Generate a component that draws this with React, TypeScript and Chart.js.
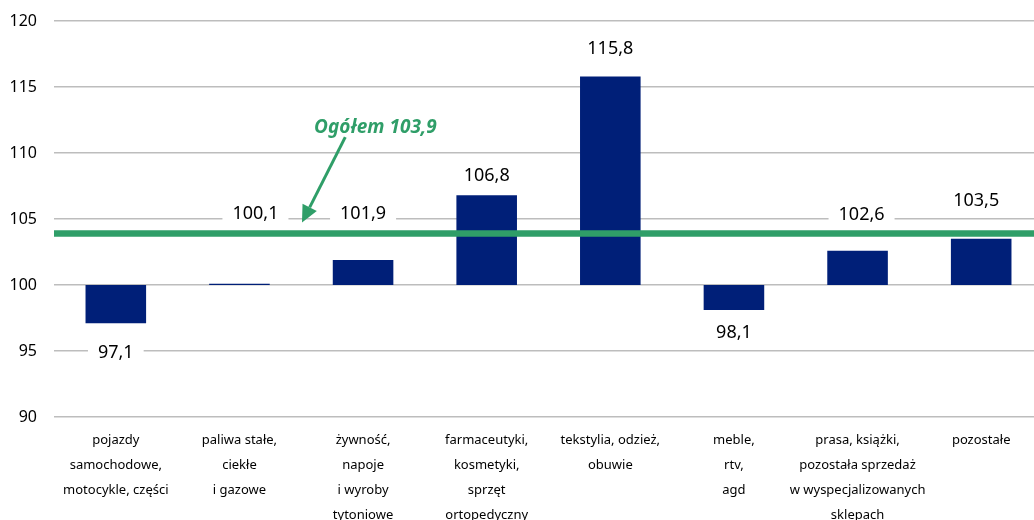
import { useEffect, useRef } from "react";
import { Chart, registerables } from "chart.js";
Chart.register(...registerables);

const categories: string[][] = [
  ["pojazdy", "samochodowe,", "motocykle, części"],
  ["paliwa stałe,", "ciekłe", "i gazowe"],
  ["żywność,", "napoje", "i wyroby", "tytoniowe"],
  ["farmaceutyki,", "kosmetyki,", "sprzęt", "ortopedyczny"],
  ["tekstylia, odzież,", "obuwie"],
  ["meble,", "rtv,", "agd"],
  ["prasa, książki,", "pozostała sprzedaż", "w wyspecjalizowanych", "sklepach"],
  ["pozostałe"],
];
const values: number[] = [97.1, 100.1, 101.9, 106.8, 115.8, 98.1, 102.6, 103.5];
const baseValue = 100;
const overallValue = 103.9;
const overallLabel = "Ogółem 103,9";
const yMin = 90;
const yMax = 120;
const yStep = 5;

const NAVY = "#001F78";
const GREEN = "#2F9E68";
const FONT = "'Noto Sans', sans-serif";

const fmt = (v: number) => v.toFixed(1).replace(".", ",");

const overlayPlugin = {
  id: "overlay",
  afterDatasetsDraw(chart: any, _args: any, opts: any) {
    const { ctx, chartArea, scales } = chart;
    const xs = scales.x;
    const ys = scales.y;
    ctx.save();
    // overall line
    const ly = ys.getPixelForValue(overallValue);
    ctx.strokeStyle = GREEN;
    ctx.lineWidth = 6.5;
    ctx.beginPath();
    ctx.moveTo(chartArea.left, ly);
    ctx.lineTo(chartArea.right, ly);
    ctx.stroke();

    // value labels
    ctx.font = `18px ${FONT}`;
    ctx.textAlign = "center";
    ctx.textBaseline = "middle";
    values.forEach((v, i) => {
      const cx = xs.getPixelForValue(i) + opts.labelDx[i];
      const cy = ys.getPixelForValue(opts.labelAt[i]);
      const txt = fmt(v);
      const w = ctx.measureText(txt).width + 20;
      ctx.fillStyle = "#ffffff";
      ctx.fillRect(cx - w / 2, cy - 12, w, 24);
      ctx.fillStyle = "#000000";
      ctx.fillText(txt, cx, cy + 1);
    });

    // annotation text
    const a = opts.annotation;
    ctx.font = `italic bold 19px ${FONT}`;
    ctx.fillStyle = GREEN;
    ctx.fillText(overallLabel, xs.getPixelForValue(a.textX), ys.getPixelForValue(a.textY));

    // arrow
    const x1 = xs.getPixelForValue(a.fromX);
    const y1 = ys.getPixelForValue(a.fromY);
    const x2 = xs.getPixelForValue(a.toX);
    const y2 = ys.getPixelForValue(a.toY);
    const ang = Math.atan2(y2 - y1, x2 - x1);
    const head = 17;
    const half = 8;
    const bx = x2 - head * Math.cos(ang);
    const by = y2 - head * Math.sin(ang);
    ctx.strokeStyle = GREEN;
    ctx.lineWidth = 3;
    ctx.beginPath();
    ctx.moveTo(x1, y1);
    ctx.lineTo(bx, by);
    ctx.stroke();
    ctx.beginPath();
    ctx.moveTo(x2, y2);
    ctx.lineTo(bx + half * Math.sin(ang), by - half * Math.cos(ang));
    ctx.lineTo(bx - half * Math.sin(ang), by + half * Math.cos(ang));
    ctx.closePath();
    ctx.fill();
    ctx.restore();
  },
};

export default function App() {
  const ref = useRef<HTMLCanvasElement | null>(null);
  useEffect(() => {
    if (!ref.current) return;
    const chart = new Chart(ref.current, {
      type: "bar",
      data: {
        labels: categories,
        datasets: [
          {
            data: values.map((v) => [baseValue, v]) as any,
            backgroundColor: NAVY,
            borderWidth: 0,
            barPercentage: 0.98,
            categoryPercentage: 0.5,
          },
        ],
      },
      plugins: [overlayPlugin],
      options: {
        animation: false,
        responsive: false,
        devicePixelRatio: 1,
        layout: { padding: { top: 21, left: 0, right: 0, bottom: 0 } },
        plugins: {
          legend: { display: false },
          tooltip: { enabled: false },
          overlay: {
            labelAt: [94.9, 105.48, 105.46, 108.35, 117.95, 96.42, 105.36, 106.44],
            labelDx: [0, 16, 0, 0, 0, 0, 4, -5],
            annotation: { textX: 2.1, textY: 111.96, fromX: 1.856, fromY: 111.2, toX: 1.506, toY: 104.73 },
          },
        } as any,
        scales: {
          x: {
            grid: { display: false },
            border: { display: false },
            ticks: {
              autoSkip: false,
              maxRotation: 0,
              minRotation: 0,
              padding: 3,
              color: "#000000",
              font: { family: FONT, size: 13, lineHeight: 1.92 },
            },
            afterFit: (s: any) => {
              s.height = 103;
            },
          },
          y: {
            min: yMin,
            max: yMax,
            grid: { color: "#BDBDBD", lineWidth: 1.5, drawTicks: false },
            border: { display: false },
            ticks: {
              stepSize: yStep,
              padding: 17,
              color: "#000000",
              font: { family: FONT, size: 16 },
            },
            afterFit: (s: any) => {
              s.width = 54;
              s.paddingTop = 0;
              s.paddingBottom = 0;
            },
          },
        },
      },
    });
    return () => chart.destroy();
  }, []);
  return (
    <div
      style={{
        position: "fixed",
        left: 0,
        top: 0,
        width: 1034,
        height: 520,
        overflow: "hidden",
        background: "#ffffff",
      }}
    >
      <canvas ref={ref} width={1043} height={520} style={{ width: 1043, height: 520, display: "block" }} />
    </div>
  );
}
